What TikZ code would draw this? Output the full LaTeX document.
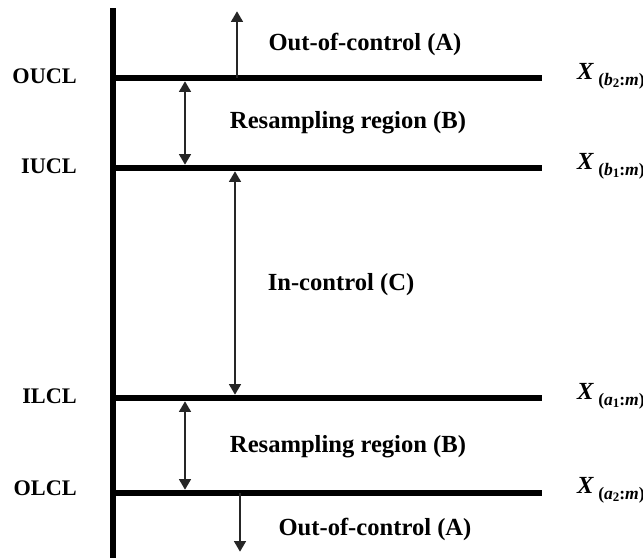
\documentclass[tikz,border=0pt]{standalone}
\usepackage{fontspec}
\setmainfont{Liberation Serif}
\usetikzlibrary{arrows.meta,positioning}
\newcommand{\ordstat}[2]{\textit{X}\,\raisebox{-0.5ex}{\fontsize{15}{16}\selectfont(\textit{#1}\raisebox{-0.3ex}{\fontsize{11}{12}\selectfont#2}:\textit{m})}}
\begin{document}
\begin{tikzpicture}[x=0.03cm,y=-0.03cm,>={Triangle[length=9pt,width=10pt]}]
\tikzstyle{limit}=[line width=5.5pt]
\tikzstyle{span}=[line width=1.7pt,draw=black!85,shorten >=2.8pt,shorten <=2.8pt]
\tikzstyle{region}=[font=\fontsize{21}{24}\selectfont\bfseries,inner sep=0pt]
\tikzstyle{side}=[font=\fontsize{19}{22}\selectfont\bfseries,inner sep=0pt,anchor=east]
\tikzstyle{order}=[font=\fontsize{21}{22}\selectfont\bfseries,inner sep=0pt,anchor=west]
\useasboundingbox (0,0) rectangle (643,558);
% axis and control limits
\coordinate (top) at (113,8);
\coordinate (bot) at (113,558);
\draw[limit] (top) -- (bot);
\foreach \n/\y in {oucl/78,iucl/168,ilcl/398,olcl/493}
  \draw[limit] (113,\y) coordinate (\n-a) -- (542,\y) coordinate (\n-b);
% limit names
\node[side] (oucl) at (77,76) {OUCL};
\node[side] (iucl) at (77,166) {IUCL};
\node[side] (ilcl) at (77,396) {ILCL};
\node[side] (olcl) at (77,488) {OLCL};
% order statistics
\node[order] (xb2) at (577,76) {\ordstat{b}{2}};
\node[order] (xb1) at (577,166) {\ordstat{b}{1}};
\node[order] (xa1) at (577,396) {\ordstat{a}{1}};
\node[order] (xa2) at (577,490) {\ordstat{a}{2}};
% regions
\node[region] (outA) at (365,44) {Out-of-control (A)};
\node[region] (resB) at (348,123) {Resampling region (B)};
\node[region] (inC) at (341,285) {In-control (C)};
\node[region] (resB2) at (348,447) {Resampling region (B)};
\node[region] (outA2) at (375,529) {Out-of-control (A)};
% arrows
\coordinate (upA) at (237,8);
\coordinate (downA) at (240,555);
\draw[span,->,shorten <=0pt] (237,0 |- oucl-a) -- (upA);
\draw[span,<->] (185,0 |- oucl-a) -- (185,0 |- iucl-a);
\draw[span,<->] (235,0 |- iucl-a) -- (235,0 |- ilcl-a);
\draw[span,<->] (185,0 |- ilcl-a) -- (185,0 |- olcl-a);
\draw[span,->,shorten <=0pt] (240,0 |- olcl-a) -- (downA);
\end{tikzpicture}
\end{document}
